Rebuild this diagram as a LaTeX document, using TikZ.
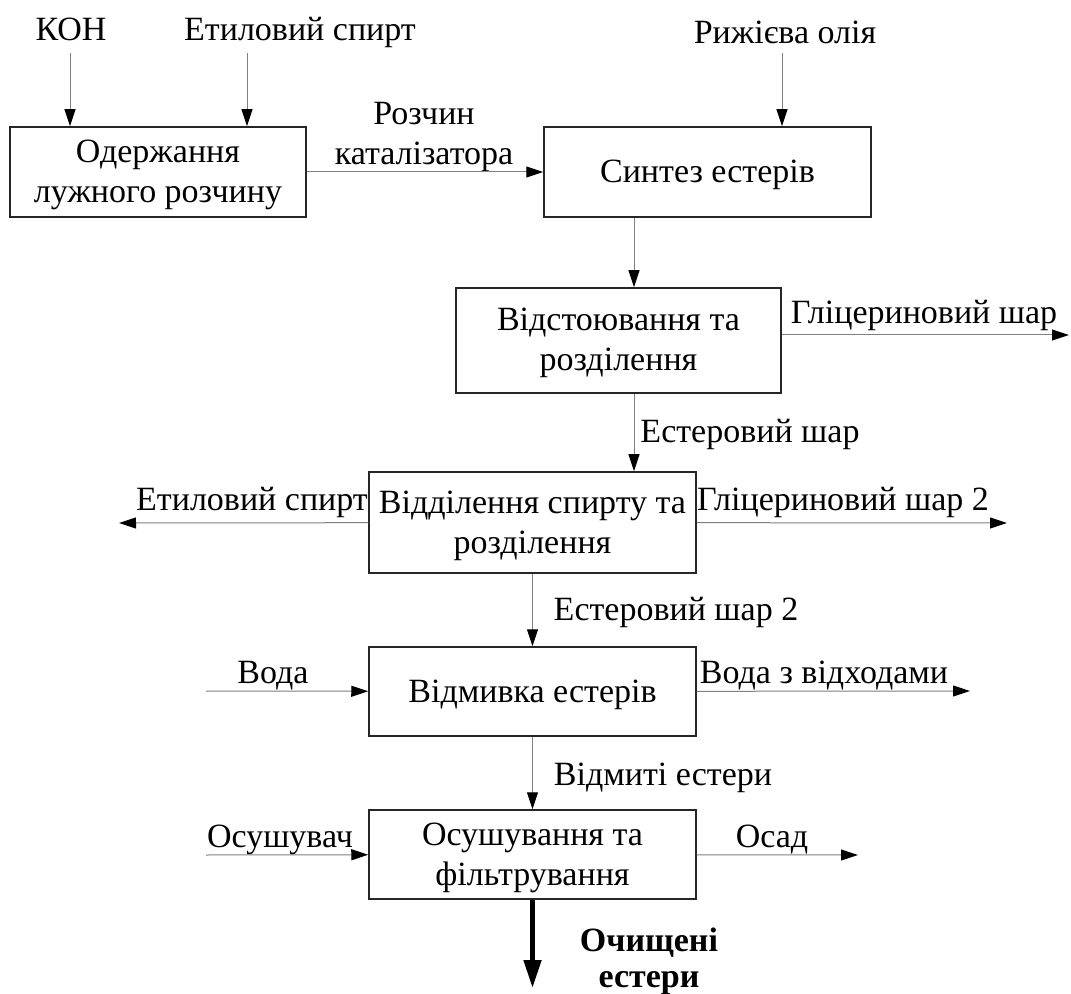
\documentclass[tikz,border=0pt]{standalone}
\usepackage{fontspec}
\setmainfont{Liberation Serif}
\usetikzlibrary{arrows.meta}

\begin{document}
\begin{tikzpicture}[x=0.5pt, y=-0.5pt,
        every node/.style={font=\fontsize{17}{20}\selectfont, align=center, inner sep=0pt, text height=11pt, text depth=0.5pt},
        two/.style={text height=31pt},
        stage/.style={draw=black!85, line width=0.75pt, minimum width=163.5pt, minimum height=44.5pt},
        flow/.style={draw=black!50, line width=0.5pt, -{Triangle[length=8.5pt, width=5.5pt, color=black]}},
        main/.style={draw=black, line width=2.4pt, -{Triangle[length=14pt, width=8.5pt]}}]
        \useasboundingbox (0, 0) rectangle (1071, 994);
        \node[stage, two, minimum width=148pt, minimum height=45pt](s1) at (158, 172) {Одержання\\лужного розчину};
        \node[stage, minimum height=45pt](s2) at (707.5, 172) {Синтез естерів};
        \node[stage, two, minimum width=162.5pt, minimum height=52.5pt](s3) at (618.5, 340.5) {Відстоювання та\\розділення};
        \node[stage, two, minimum height=50.5pt](s4) at (532.5, 522.5) {Відділення спирту та\\розділення};
        \node[stage](s5) at (532.5, 691.5) {Відмивка естерів};
        \node[stage, two](s6) at (532.5, 854.5) {Осушування та\\фільтрування};
        \node(a1) at (71, 30) {КОН};
        \node(a2) at (300, 30) {Етиловий спирт};
        \node(a3) at (785, 33) {Рижієва олія};
        \node[two](a4) at (424, 134) {Розчин\\каталізатора};
        \node(a5) at (924, 313) {Гліцериновий шар};
        \node(a6) at (750, 432) {Естеровий шар};
        \node(a7) at (252, 500) {Етиловий спирт};
        \node(a8) at (843, 500) {Гліцериновий шар 2};
        \node(a9) at (676, 610) {Естеровий шар 2};
        \node(a10) at (273, 673) {Вода};
        \node(a11) at (824, 673) {Вода з відходами};
        \node(a12) at (663, 775) {Відмиті естери};
        \node(a13) at (280, 837) {Осушувач};
        \node(a14) at (772, 837) {Осад};
        \node[font=\fontsize{17}{18}\selectfont\bfseries, text height=29pt](a15) at (649, 959) {Очищені\\естери};
        \coordinate(e1) at (70, 53);
        \coordinate(e2) at (247, 53);
        \coordinate(e3) at (782, 53);
        \coordinate(e4) at (634, 250);
        \coordinate(e5) at (1069, 335);
        \coordinate(e6) at (119, 523);
        \coordinate(e7) at (1007, 523);
        \coordinate(e8) at (206, 691);
        \coordinate(e9) at (970, 691);
        \coordinate(e10) at (206, 855);
        \coordinate(e11) at (858, 855);
        \coordinate(e12) at (532.5, 988);
        \draw[flow] (e1) -- (e1 |- s1.north);
        \draw[flow] (e2) -- (e2 |- s1.north);
        \draw[flow] (e3) -- (e3 |- s2.north);
        \draw[flow] (s1) -- (s2);
        \draw[flow] (e4 |- s2.south) -- (e4 |- s3.north);
        \draw[flow] (e5 -| s3.east) -- (e5);
        \draw[flow] (e4 |- s3.south) -- (e4 |- s4.north);
        \draw[flow] (s4) -- (e6);
        \draw[flow] (s4) -- (e7);
        \draw[flow] (s4) -- (s5);
        \draw[flow] (e8) -- (s5);
        \draw[flow] (s5) -- (e9);
        \draw[flow] (s5) -- (s6);
        \draw[flow] (e10) -- (s6);
        \draw[flow] (s6) -- (e11);
        \draw[main] (s6) -- (e12);
\end{tikzpicture}
\end{document}
